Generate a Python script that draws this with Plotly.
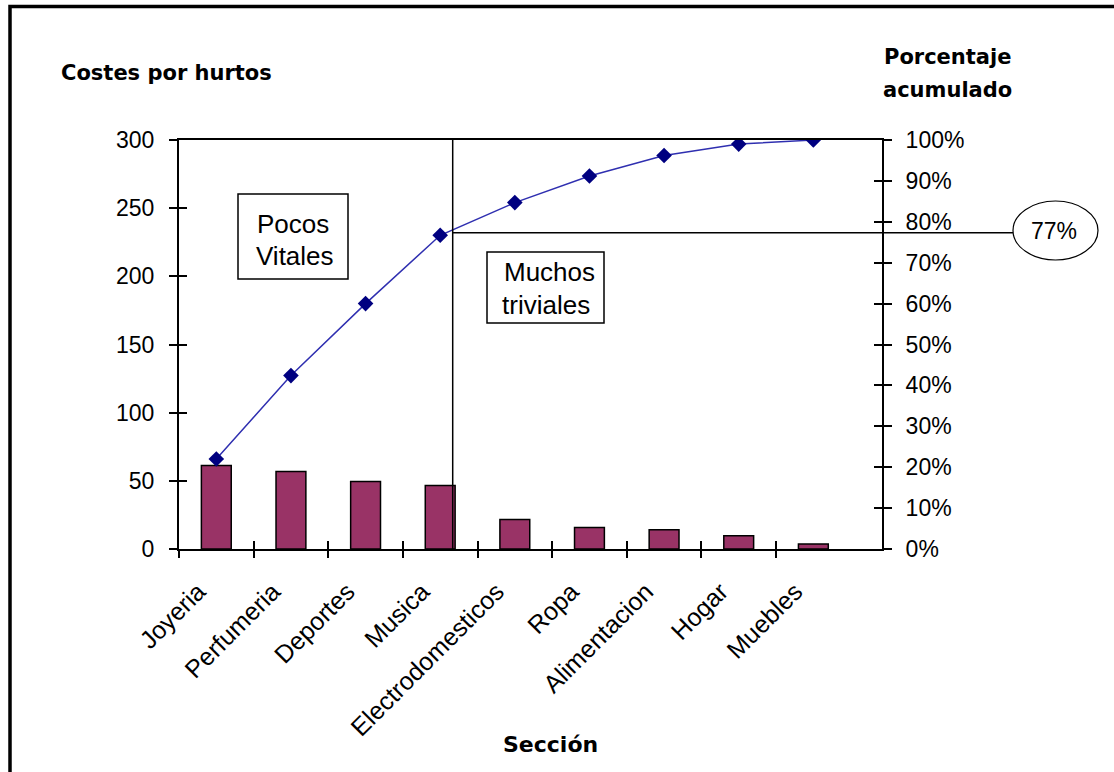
import plotly.graph_objects as go

# ---- data ----
secciones = ["Joyeria", "Perfumeria", "Deportes", "Musica", "Electrodomesticos",
             "Ropa", "Alimentacion", "Hogar", "Muebles"]
costes = [61.3, 56.9, 49.5, 46.6, 21.6, 15.7, 14.2, 9.8, 3.7]
porc_acum = [0.22, 0.424, 0.60, 0.767, 0.847, 0.912, 0.962, 0.99, 1.0]
y_ticks = [0, 50, 100, 150, 200, 250, 300]
pct_ticks = [i / 10 for i in range(11)]
boundary_ticks = [-0.5, 0.5, 1.5, 2.5, 3.5, 4.5, 5.5, 6.5, 7.5]

W, H = 1114, 772
L, R, T, B = 179, 882, 140, 549
XR = [-0.5, 8.92]

def px(xp):
    return (xp - L) / (R - L)

def py(yp):
    return (B - yp) / (B - T)

FONT = "Liberation Sans, Arial, sans-serif"
BFONT = "DejaVu Sans, sans-serif"
tickfont = dict(family=FONT, size=23, color="black")

fig = go.Figure()
fig.add_trace(go.Bar(
    x=secciones, y=costes, width=0.4,
    marker=dict(color="#993366", line=dict(color="black", width=1.5)),
    xaxis="x", yaxis="y", showlegend=False))
fig.add_trace(go.Scatter(
    x=secciones, y=porc_acum, mode="lines+markers",
    line=dict(color="#2f2fb0", width=1.5),
    marker=dict(symbol="diamond", size=12, color="#000080"),
    xaxis="x", yaxis="y2", showlegend=False))

tick_common = dict(showgrid=False, zeroline=False, tickcolor="black", tickwidth=2, ticklen=8)
axis_common = dict(linecolor="black", linewidth=2, **tick_common)

fig.update_layout(
    width=W, height=H,
    margin=dict(l=L, r=W - R, t=T, b=H - B),
    paper_bgcolor="white", plot_bgcolor="white",
    xaxis=dict(type="category", range=XR, showline=True, mirror=True,
               ticks="", tickangle=-45, tickfont=dict(family=FONT, size=25, color="black"),
               ticklabelstandoff=16, ticklabelshift=-18,
               showgrid=False, zeroline=False, linecolor="black", linewidth=2),
    xaxis2=dict(overlaying="x", range=XR, tickmode="array", tickvals=boundary_ticks,
                ticks="outside", showticklabels=False, showline=False, anchor="y", **tick_common),
    xaxis3=dict(overlaying="x", range=XR, tickmode="array", tickvals=boundary_ticks,
                ticks="inside", showticklabels=False, showline=False, anchor="y", **tick_common),
    yaxis=dict(range=[0, 300], tickmode="array", tickvals=y_ticks, ticks="outside",
               showline=True, tickfont=tickfont, ticklabelstandoff=10, **axis_common),
    yaxis2=dict(range=[0, 1], overlaying="y", side="right", tickmode="array",
                tickvals=pct_ticks, tickformat=".0%", ticks="outside", showline=True,
                tickfont=tickfont, ticklabelstandoff=9, **axis_common),
    yaxis3=dict(range=[0, 300], overlaying="y", side="left", tickmode="array",
                tickvals=y_ticks, ticks="inside", showticklabels=False, showline=False,
                anchor="x", **tick_common),
    yaxis4=dict(range=[0, 1], overlaying="y", side="right", tickmode="array",
                tickvals=pct_ticks, ticks="inside", showticklabels=False, showline=False,
                anchor="x", **tick_common),
)

# invisible traces to activate overlay axes
for xa, ya in [("x2", "y"), ("x3", "y"), ("x", "y3"), ("x", "y4")]:
    fig.add_trace(go.Scatter(x=[None], y=[None], xaxis=xa, yaxis=ya,
                             showlegend=False, hoverinfo="skip"))

shapes = [
    # outer frame
    dict(type="rect", xref="paper", yref="paper", x0=px(10), x1=px(1140),
         y0=py(800), y1=py(6.5), line=dict(color="black", width=3.5)),
    # divider vertical
    dict(type="line", xref="paper", yref="paper", x0=px(452.7), x1=px(452.7),
         y0=0, y1=1, line=dict(color="black", width=1.5)),
    # 77% horizontal
    dict(type="line", xref="paper", yref="paper", x0=px(452.7), x1=px(1013),
         y0=py(232.7), y1=py(232.7), line=dict(color="black", width=1.5)),
    # boxes
    dict(type="rect", xref="paper", yref="paper", x0=px(238), x1=px(348),
         y0=py(279), y1=py(194), line=dict(color="black", width=1.5), fillcolor="white"),
    dict(type="rect", xref="paper", yref="paper", x0=px(487), x1=px(604),
         y0=py(323), y1=py(252), line=dict(color="black", width=1.5), fillcolor="white"),
    # ellipse
    dict(type="circle", xref="paper", yref="paper", x0=px(1013), x1=px(1098),
         y0=py(260), y1=py(201), line=dict(color="black", width=1.2), fillcolor="white"),
]
fig.update_layout(shapes=shapes)

boldfont = dict(family=BFONT, size=21, color="black")
boxfont = dict(family=FONT, size=26, color="black")
annots = [
    dict(text="<b>Costes por hurtos</b>", x=px(166), y=py(73), font=boldfont),
    dict(text="<b>Porcentaje</b>", x=px(947), y=py(57), font=boldfont),
    dict(text="<b>acumulado</b>", x=px(947), y=py(90), font=boldfont),
    dict(text="<b>Sección</b>", x=px(550), y=py(744), font=dict(family=BFONT, size=22, color="black")),
    dict(text="Pocos", x=px(293), y=py(224), font=boxfont),
    dict(text="Vitales", x=px(295), y=py(256), font=boxfont),
    dict(text="Muchos", x=px(549), y=py(272), font=boxfont),
    dict(text="triviales", x=px(546), y=py(305), font=boxfont),
    dict(text="77%", x=px(1054), y=py(231), font=dict(family=FONT, size=23, color="black")),
]
for a in annots:
    fig.add_annotation(xref="paper", yref="paper", showarrow=False,
                       xanchor="center", yanchor="middle", **a)

fig.write_html("out.html")
